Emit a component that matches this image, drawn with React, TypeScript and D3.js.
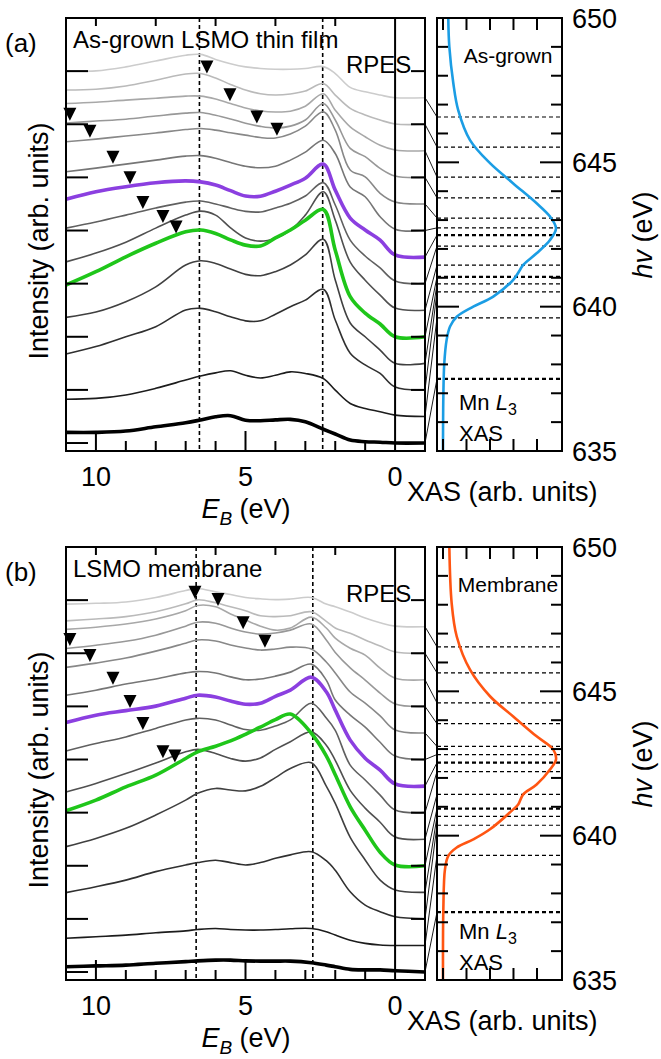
import React from 'react';
import * as d3 from 'd3';

const FONT = '"Liberation Sans", Arial, Helvetica, sans-serif';

// binding energy grids (eV) used for the two RPES stacks
const energyGrown = [11, 10, 9, 8, 7, 6.5, 6, 5.5, 5, 4.5, 4, 3.5, 3, 2.4, 2, 1.5, 1, 0.5, 0, -1];
const energyMembrane = [11, 10, 9, 8, 7, 6.6, 6, 5.5, 5, 4.5, 4, 3.5, 2.8, 2.3, 2, 1.5, 1, 0.5, 0, -1];

// vertical offset of each trace (top trace first)
const traceOffsets = [13, 12, 11, 10, 9, 8, 7, 6, 5, 4, 3, 2, 1, 0];
const traceColors = [
  '#cccccc', '#bababa', '#a8a8a8', '#989898', '#888888', '#767676', '#8b3fe0',
  '#606060', '#505050', '#1fc61a', '#404040', '#303030', '#1c1c1c', '#000000',
];
const traceWidths = [1.6, 1.6, 1.6, 1.6, 1.6, 1.6, 3.6, 1.6, 1.6, 3.6, 1.6, 1.6, 1.6, 3.6];

// intensity above each trace's offset (arb. units)
const spectraGrown = [
  [1.0, 1.01, 1.16, 1.38, 1.6, 1.63, 1.44, 1.28, 1.16, 1.1, 1.07, 1.07, 1.1, 1.17, 0.91, 0.39, 0.22, 0.1, 0, 0],
  [1.29, 1.32, 1.44, 1.66, 1.89, 1.91, 1.74, 1.5, 1.29, 1.15, 1.1, 1.14, 1.25, 1.53, 1.1, 0.6, 0.35, 0.16, 0.01, 0],
  [1.78, 1.83, 1.91, 1.98, 2.06, 2.06, 1.95, 1.78, 1.61, 1.5, 1.46, 1.49, 1.68, 2.15, 1.53, 0.9, 0.53, 0.21, 0.03, 0],
  [2.05, 2.12, 2.19, 2.31, 2.42, 2.44, 2.34, 2.2, 2.04, 1.92, 1.86, 1.93, 2.16, 2.78, 2.16, 1.09, 0.78, 0.34, 0.05, 0],
  [2.34, 2.44, 2.56, 2.67, 2.8, 2.84, 2.78, 2.68, 2.59, 2.5, 2.48, 2.63, 2.93, 3.47, 2.78, 1.28, 1.02, 0.4, 0.07, 0],
  [2.21, 2.35, 2.5, 2.65, 2.8, 2.82, 2.72, 2.56, 2.42, 2.36, 2.42, 2.65, 2.95, 3.4, 2.9, 1.64, 1.27, 0.52, 0.05, 0],
  [2.18, 2.46, 2.65, 2.8, 2.87, 2.83, 2.71, 2.5, 2.3, 2.29, 2.48, 2.71, 2.97, 3.5, 2.52, 1.47, 1.02, 0.64, 0.08, 0],
  [2.09, 2.32, 2.58, 2.85, 3.07, 3.11, 3.0, 2.85, 2.72, 2.7, 2.85, 3.03, 3.3, 3.8, 2.96, 1.64, 1.04, 0.59, 0.1, 0],
  [1.82, 2.15, 2.56, 3.09, 3.58, 3.73, 3.58, 3.1, 2.72, 2.6, 2.71, 3.01, 3.58, 4.46, 3.39, 1.81, 1.13, 0.57, 0.08, 0],
  [1.95, 2.45, 3.01, 3.52, 3.95, 4.02, 3.89, 3.65, 3.45, 3.42, 3.72, 4.02, 4.39, 4.79, 3.26, 1.51, 0.89, 0.48, 0, 0],
  [1.73, 1.93, 2.32, 2.88, 3.7, 3.86, 3.76, 3.55, 3.35, 3.3, 3.45, 3.7, 4.08, 4.67, 3.14, 1.52, 1.0, 0.5, 0, 0],
  [1.35, 1.63, 2.0, 2.38, 3.01, 3.07, 2.94, 2.75, 2.6, 2.6, 2.85, 3.13, 3.38, 3.79, 2.63, 1.38, 0.94, 0.62, 0.11, 0],
  [0.65, 0.68, 0.81, 1.06, 1.37, 1.52, 1.64, 1.72, 1.55, 1.45, 1.55, 1.68, 1.62, 1.43, 0.99, 0.49, 0.3, 0.18, 0.05, 0],
  [0.4, 0.4, 0.45, 0.61, 0.76, 0.87, 0.99, 1.03, 0.86, 0.84, 0.87, 0.89, 0.8, 0.52, 0.34, 0.11, 0.05, 0.03, 0, 0],
];

const spectraMembrane = [
  [0.85, 0.88, 0.93, 1.1, 1.36, 1.44, 1.31, 1.21, 1.1, 1.05, 1.02, 1.04, 1.1, 0.85, 0.75, 0.55, 0.33, 0.15, 0.02, 0],
  [1.22, 1.29, 1.38, 1.56, 1.86, 2.01, 1.9, 1.75, 1.6, 1.41, 1.38, 1.41, 1.56, 1.2, 0.95, 0.75, 0.5, 0.27, 0.05, 0],
  [1.9, 1.98, 2.1, 2.29, 2.6, 2.8, 2.75, 2.48, 2.25, 2.02, 1.87, 1.95, 2.36, 1.95, 1.57, 1.19, 0.93, 0.44, 0.06, 0],
  [2.18, 2.3, 2.45, 2.68, 3.02, 3.17, 3.13, 2.95, 2.8, 2.72, 2.76, 2.87, 3.1, 2.5, 2.03, 1.45, 0.99, 0.5, 0.09, 0],
  [2.47, 2.63, 2.82, 3.08, 3.38, 3.5, 3.46, 3.31, 3.2, 3.12, 3.16, 3.23, 3.16, 2.67, 2.26, 1.54, 1.12, 0.64, 0.11, 0],
  [2.42, 2.61, 2.84, 3.03, 3.26, 3.31, 3.26, 3.11, 3.0, 3.03, 3.14, 3.29, 3.59, 2.99, 2.24, 1.67, 1.22, 0.65, 0.13, 0],
  [2.39, 2.67, 2.84, 3.01, 3.31, 3.42, 3.35, 3.2, 3.08, 3.12, 3.38, 3.61, 4.1, 3.55, 2.86, 1.73, 1.05, 0.6, 0.08, 0],
  [2.32, 2.6, 2.85, 3.17, 3.49, 3.55, 3.49, 3.3, 3.13, 3.1, 3.26, 3.49, 4.12, 3.56, 3.1, 1.79, 1.23, 0.66, 0.1, 0],
  [1.78, 2.1, 2.47, 2.87, 3.29, 3.38, 3.23, 3.04, 2.94, 3.06, 3.38, 3.67, 4.04, 3.54, 2.97, 1.84, 1.17, 0.64, 0.08, 0],
  [2.07, 2.47, 2.97, 3.41, 4.04, 4.29, 4.5, 4.7, 4.95, 5.22, 5.5, 5.71, 4.99, 4.14, 3.43, 2.22, 1.34, 0.51, 0.03, 0],
  [1.72, 2.03, 2.41, 2.91, 3.47, 3.73, 3.91, 3.85, 3.82, 3.99, 4.32, 4.66, 4.88, 4.0, 3.35, 2.07, 1.22, 0.46, 0.09, 0],
  [0.99, 1.21, 1.46, 1.78, 2.03, 2.12, 2.21, 2.12, 2.03, 2.12, 2.28, 2.41, 2.53, 2.19, 1.83, 1.02, 0.52, 0.27, 0.08, 0],
  [0.27, 0.33, 0.39, 0.48, 0.55, 0.6, 0.64, 0.6, 0.58, 0.58, 0.6, 0.63, 0.64, 0.52, 0.39, 0.2, 0.08, 0.02, 0, 0],
  [0.2, 0.23, 0.26, 0.33, 0.39, 0.42, 0.45, 0.45, 0.42, 0.41, 0.41, 0.41, 0.35, 0.26, 0.2, 0.1, 0.08, 0.08, 0.05, 0],
];

// photon energies (eV) of the traces, top trace first
const photonGrown = [646.57, 645.53, 644.49, 643.77, 643.07, 642.73, 642.48, 642.1, 641.44, 641.03, 640.79, 640.51, 639.61, 637.5];
const photonMembrane = [646.54, 645.64, 644.6, 643.88, 643.09, 642.81, 642.53, 642.22, 641.43, 640.94, 640.67, 640.36, 639.32, 637.35];

// Mn L3 XAS
const xasHvGrown = [650, 649, 647.74, 646.8, 645.77, 644.97, 644.27, 643.58, 643.12, 642.72, 642.31, 641.85, 641.45, 641.27, 640.93, 640.35, 640.0, 639.65, 639.31, 638.85, 638.04, 636.88, 635];
const xasGrown = [0.045, 0.054, 0.088, 0.13, 0.23, 0.4, 0.598, 0.797, 0.911, 0.962, 0.911, 0.797, 0.683, 0.655, 0.598, 0.428, 0.258, 0.117, 0.06, 0.031, 0.011, 0.003, 0];
const xasHvMembrane = [650, 648.05, 646.9, 645.75, 644.83, 644.13, 643.44, 642.98, 642.64, 642.29, 641.77, 641.43, 641.08, 640.91, 640.22, 639.87, 639.59, 639.3, 638.84, 637.45, 635];
const xasMembrane = [0.054, 0.074, 0.117, 0.23, 0.4, 0.598, 0.797, 0.939, 0.962, 0.911, 0.797, 0.683, 0.64, 0.598, 0.4, 0.258, 0.117, 0.045, 0.017, 0.003, 0];

// triangle markers: binding energy and trace index
const markersGrown = [
  { e: 6.29, trace: 1 }, { e: 5.52, trace: 2 }, { e: 4.62, trace: 3 }, { e: 3.95, trace: 4 },
  { e: 10.87, trace: 3 }, { e: 10.2, trace: 4 }, { e: 9.43, trace: 5 }, { e: 8.86, trace: 6 },
  { e: 8.43, trace: 7 }, { e: 7.76, trace: 8 }, { e: 7.32, trace: 9 },
];
const markersMembrane = [
  { e: 6.69, trace: 1 }, { e: 5.92, trace: 2 }, { e: 5.08, trace: 3 }, { e: 4.35, trace: 4 },
  { e: 10.87, trace: 3 }, { e: 10.2, trace: 4 }, { e: 9.43, trace: 5 }, { e: 8.86, trace: 6 },
  { e: 8.43, trace: 7 }, { e: 7.76, trace: 8 }, { e: 7.36, trace: 9 },
];

const guideGrown = [6.54, 2.42];
const guideMembrane = [6.65, 2.75];

const intensityTicks = [0, 2, 4, 6, 8, 10, 12, 14];
const energyTicks = [10, 9, 8, 7, 6, 5, 4, 3, 2, 1];
const energyMajor = [10, 5];
const energyTopTicks = [10, 8, 6, 4, 2];
const energyLabels = [10, 5, 0];
const hvTicks = [636, 637, 638, 639, 640, 641, 642, 643, 644, 645, 646, 647, 648, 649];
const hvMajor = [640, 645];
const hvLabels = [650, 645, 640, 635];
const xasTicks = [0, 0.2, 0.4, 0.6, 0.8];
const boldGuides = [6, 9, 13];

const PANEL_H = 433;

function Panel({ top, tag, title, sample, energy, spectra, photon, xasHv, xas, xasColor, markers, guides }: any) {
  const bottom = top + PANEL_H;
  const x = d3.scaleLinear().domain([11, -1]).range([66, 425]);
  const y = d3.scaleLinear().domain([-0.3, 16]).range([bottom, top]);
  const hv = d3.scaleLinear().domain([635, 650]).range([bottom, top]);
  const xs = d3.scaleLinear().domain([-0.051, 1.013]).range([437, 562]);

  const trace = d3.line<[number, number]>().x(d => x(d[0])).y(d => y(d[1])).curve(d3.curveCatmullRom.alpha(0.5));
  const xasLine = d3.line<[number, number]>().x(d => xs(d[1])).y(d => hv(d[0])).curve(d3.curveCatmullRom.alpha(0.5));

  const paths = spectra.map((s: number[], i: number) =>
    trace(energy.map((e: number, k: number) => [e, traceOffsets[i] + s[k]] as [number, number])));
  const xasPath = xasLine(xasHv.map((h: number, k: number) => [h, xas[k]] as [number, number]));

  const tri = markers.map((m: any) => {
    const interp = d3.scaleLinear().domain(energy).range(spectra[m.trace]);
    const cx = x(m.e);
    const ty = y(traceOffsets[m.trace] + interp(m.e)) - 2;
    return `M${cx - 6.5},${ty - 13}L${cx + 6.5},${ty - 13}L${cx},${ty}Z`;
  });

  const txt = { fontFamily: FONT, fill: '#000' } as const;

  return (
    <g>
      {/* guide lines */}
      {guides.map((g: number, i: number) => (
        <line key={'g' + i} x1={x(g)} x2={x(g)} y1={top} y2={bottom} stroke="#000" strokeWidth={1.6} strokeDasharray="4 3" />
      ))}
      {paths.map((p: string, i: number) => (
        <path key={'t' + i} d={p} fill="none" stroke={traceColors[i]} strokeWidth={traceWidths[i]} strokeLinejoin="round" />
      ))}
      {tri.map((d: string, i: number) => <path key={'m' + i} d={d} fill="#000" />)}
      <line x1={x(0)} x2={x(0)} y1={top} y2={bottom} stroke="#000" strokeWidth={2} />
      <rect x={66} y={top} width={359} height={PANEL_H} fill="none" stroke="#000" strokeWidth={2} />
      {intensityTicks.map(v => (
        <g key={'yt' + v}>
          <line x1={66} x2={88} y1={y(v)} y2={y(v)} stroke="#000" strokeWidth={2} />
          <line x1={411} x2={425} y1={y(v)} y2={y(v)} stroke="#000" strokeWidth={2} />
        </g>
      ))}
      {energyTicks.map(e => (
        <line key={'et' + e} x1={x(e)} x2={x(e)} y1={bottom} y2={bottom - (energyMajor.includes(e) ? 20 : 10)} stroke="#000" strokeWidth={2} />
      ))}
      {energyTopTicks.map(e => (
        <line key={'ett' + e} x1={x(e)} x2={x(e)} y1={top} y2={top + 8} stroke="#000" strokeWidth={2} />
      ))}
      {energyLabels.map(e => (
        <text key={'el' + e} x={x(e)} y={bottom + 35} textAnchor="middle" fontSize={27} style={txt}>{e}</text>
      ))}

      {/* XAS panel */}
      {photon.map((h: number, i: number) => (
        <g key={'c' + i}>
          <line x1={xs(-0.051)} x2={xs(1.013)} y1={hv(h)} y2={hv(h)} stroke="#000"
            strokeWidth={boldGuides.includes(i) ? 2.2 : 1.2} strokeDasharray="4 3" />
          <line x1={425} x2={437} y1={y(traceOffsets[i])} y2={hv(h)} stroke="#000" strokeWidth={0.9} />
        </g>
      ))}
      <path d={xasPath || ''} fill="none" stroke={xasColor} strokeWidth={2.6} />
      <rect x={437} y={top} width={125} height={PANEL_H} fill="none" stroke="#000" strokeWidth={2} />
      {hvTicks.map(h => {
        const len = hvMajor.includes(h) ? 22 : 11;
        return (
          <g key={'ht' + h}>
            <line x1={437} x2={437 + len} y1={hv(h)} y2={hv(h)} stroke="#000" strokeWidth={2} />
            <line x1={562 - len} x2={562} y1={hv(h)} y2={hv(h)} stroke="#000" strokeWidth={2} />
          </g>
        );
      })}
      {xasTicks.map(v => (
        <g key={'xt' + v}>
          <line x1={xs(v)} x2={xs(v)} y1={top} y2={top + 12} stroke="#000" strokeWidth={2} />
          <line x1={xs(v)} x2={xs(v)} y1={bottom} y2={bottom - 12} stroke="#000" strokeWidth={2} />
        </g>
      ))}
      {hvLabels.map(h => (
        <text key={'hl' + h} x={572} y={hv(h) + 9.5} fontSize={27} style={txt}>{h}</text>
      ))}

      {/* texts */}
      <text x={5} y={top + 34} fontSize={26} style={txt}>{tag}</text>
      <text x={73} y={top + 30} fontSize={24} style={txt}>{title}</text>
      <text x={346} y={top + 55} fontSize={24} style={txt}>RPES</text>
      <text x={508} y={top + 45} fontSize={21} textAnchor="middle" style={txt}>{sample}</text>
      <text x={459} y={top + 392} fontSize={22} style={txt}>
        Mn <tspan fontStyle="italic">L</tspan><tspan dy={5} fontSize={16}>3</tspan>
      </text>
      <text x={459} y={top + 423} fontSize={22} style={txt}>XAS</text>
      <text x={246} y={bottom + 67} fontSize={27} textAnchor="middle" style={txt}>
        <tspan fontStyle="italic">E</tspan><tspan fontStyle="italic" dy={7} fontSize={19}>B</tspan><tspan dy={-7}> (eV)</tspan>
      </text>
      <text x={407} y={bottom + 50} fontSize={27} style={txt}>XAS (arb. units)</text>
      <text transform={`translate(48,${top + 223}) rotate(-90)`} fontSize={27} textAnchor="middle" style={txt}>Intensity (arb. units)</text>
      <text transform={`translate(652,${top + 217}) rotate(-90)`} fontSize={27} textAnchor="middle" style={txt}>
        <tspan fontStyle="italic">hv</tspan> (eV)
      </text>
    </g>
  );
}

export default function App() {
  return (
    <svg width={661} height={1059} style={{ position: 'absolute', left: 0, top: 0, background: '#fff' }}>
      <rect width={661} height={1059} fill="#fff" />
      <Panel top={18} tag="(a)" title="As-grown LSMO thin film" sample="As-grown"
        energy={energyGrown} spectra={spectraGrown} photon={photonGrown}
        xasHv={xasHvGrown} xas={xasGrown} xasColor="#1b9de4" markers={markersGrown} guides={guideGrown} />
      <Panel top={547} tag="(b)" title="LSMO membrane" sample="Membrane"
        energy={energyMembrane} spectra={spectraMembrane} photon={photonMembrane}
        xasHv={xasHvMembrane} xas={xasMembrane} xasColor="#ff5512" markers={markersMembrane} guides={guideMembrane} />
    </svg>
  );
}
